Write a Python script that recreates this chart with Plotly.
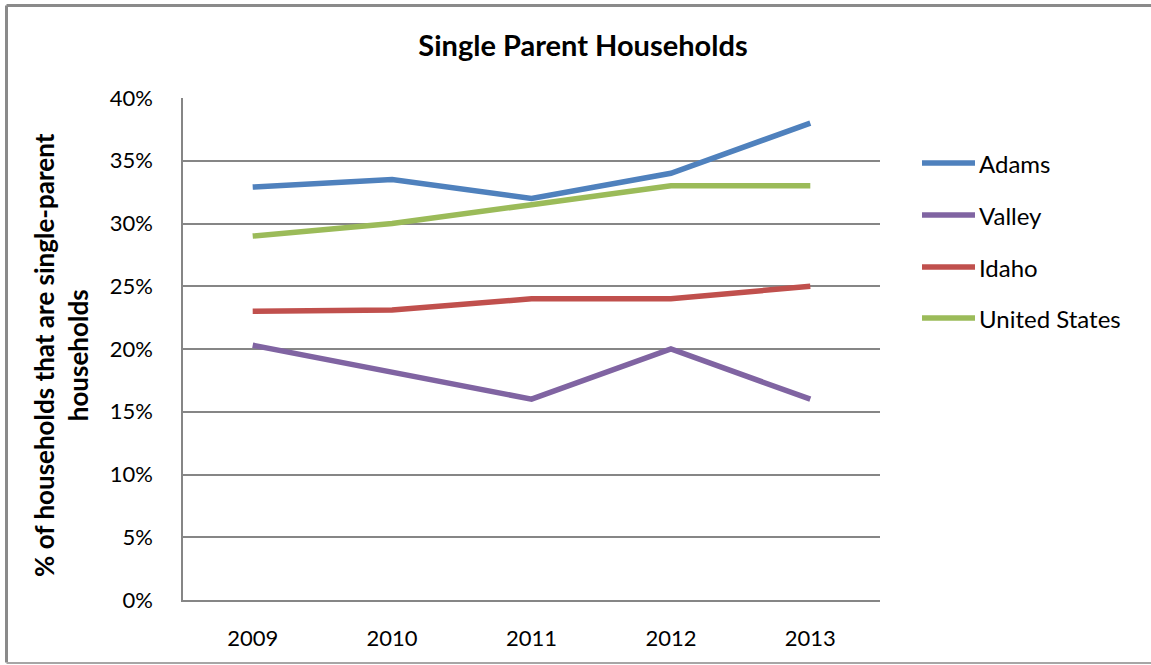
import plotly.graph_objects as go

years = ["2009", "2010", "2011", "2012", "2013"]
series_names = ["Adams", "Valley", "Idaho", "United States"]
adams = [0.329, 0.335, 0.320, 0.340, 0.380]
valley = [0.203, 0.181, 0.160, 0.200, 0.160]
idaho = [0.230, 0.231, 0.240, 0.240, 0.250]
united_states = [0.290, 0.300, 0.315, 0.330, 0.330]
colors = ["#4F81BD", "#8064A2", "#C0504D", "#9BBB59"]
y_ticks = [0, 0.05, 0.10, 0.15, 0.20, 0.25, 0.30, 0.35, 0.40]

W, H = 1151, 665
L, R, T, B = 183, 271, 98, 65
pw, ph = W - L - R, H - T - B

def px_x(x):
    return (x - L) / pw

def px_y(y):
    return (H - B - y) / ph

FONT = "Lato, Calibri, 'Open Sans', sans-serif"

fig = go.Figure()
for name, vals, col in zip(series_names, [adams, valley, idaho, united_states], colors):
    fig.add_trace(go.Scatter(x=years, y=vals, mode="lines", name=name,
                             line=dict(color=col, width=5.5), showlegend=False))

# manual legend
leg_y = [163, 215, 267, 318]
shapes = []
annotations = []
for name, col, yy in zip(series_names, colors, leg_y):
    shapes.append(dict(type="line", xref="paper", yref="paper",
                       x0=px_x(922), x1=px_x(975), y0=px_y(yy), y1=px_y(yy),
                       line=dict(color=col, width=5.5)))
    annotations.append(dict(xref="paper", yref="paper", x=px_x(977), y=px_y(yy),
                            text=name, showarrow=False, xanchor="left", yanchor="middle",
                            font=dict(family=FONT, size=24, color="#000000")))

# outer frame (left, top, bottom)
frame = dict(color="#8a8a8a", width=3)
shapes.append(dict(type="line", xref="paper", yref="paper", x0=px_x(6.5), x1=px_x(6.5),
                   y0=px_y(662.5), y1=px_y(5.5), line=frame, layer="below"))
shapes.append(dict(type="line", xref="paper", yref="paper", x0=px_x(6.5), x1=px_x(1151),
                   y0=px_y(5.5), y1=px_y(5.5), line=frame, layer="below"))
shapes.append(dict(type="line", xref="paper", yref="paper", x0=px_x(6.5), x1=px_x(1151),
                   y0=px_y(663), y1=px_y(663), line=dict(color="#a6a6a6", width=2),
                   layer="below"))

# y-axis title
annotations.append(dict(xref="paper", yref="paper", x=px_x(61), y=px_y(355),
                        text="<b>% of households that are single-parent<br>households</b>",
                        textangle=-90, showarrow=False, xanchor="center", yanchor="middle",
                        font=dict(family=FONT, size=26, color="#000000")))

fig.update_layout(
    width=W, height=H,
    margin=dict(l=L, r=R, t=T, b=B, autoexpand=False),
    paper_bgcolor="white", plot_bgcolor="white",
    title=dict(text="<b>Single Parent Households</b>", x=583 / W, xref="container",
               xanchor="center", y=1 - 46 / H, yref="container", yanchor="middle",
               font=dict(family=FONT, size=29, color="#000000")),
    shapes=shapes, annotations=annotations, showlegend=False,
    font=dict(family=FONT, size=22, color="#000000"),
)
fig.update_xaxes(type="category", range=[-0.5, 4.5], showgrid=False,
                 showline=True, linecolor="#868686", linewidth=1.5,
                 ticks="", ticklabelstandoff=18, tickfont=dict(size=22, family=FONT),
                 fixedrange=True)
fig.update_yaxes(range=[0, 0.40], tickvals=y_ticks, tickformat=".0%",
                 showgrid=True, gridcolor="#868686", gridwidth=1.5,
                 showline=True, linecolor="#868686", linewidth=1.5, mirror=False,
                 zeroline=False, ticks="", ticklabelstandoff=24,
                 tickfont=dict(size=22, family=FONT), fixedrange=True)

fig.write_html("out.html", config={"displayModeBar": False},
               post_script="document.body.style.margin='0';document.body.style.overflow='hidden';")
